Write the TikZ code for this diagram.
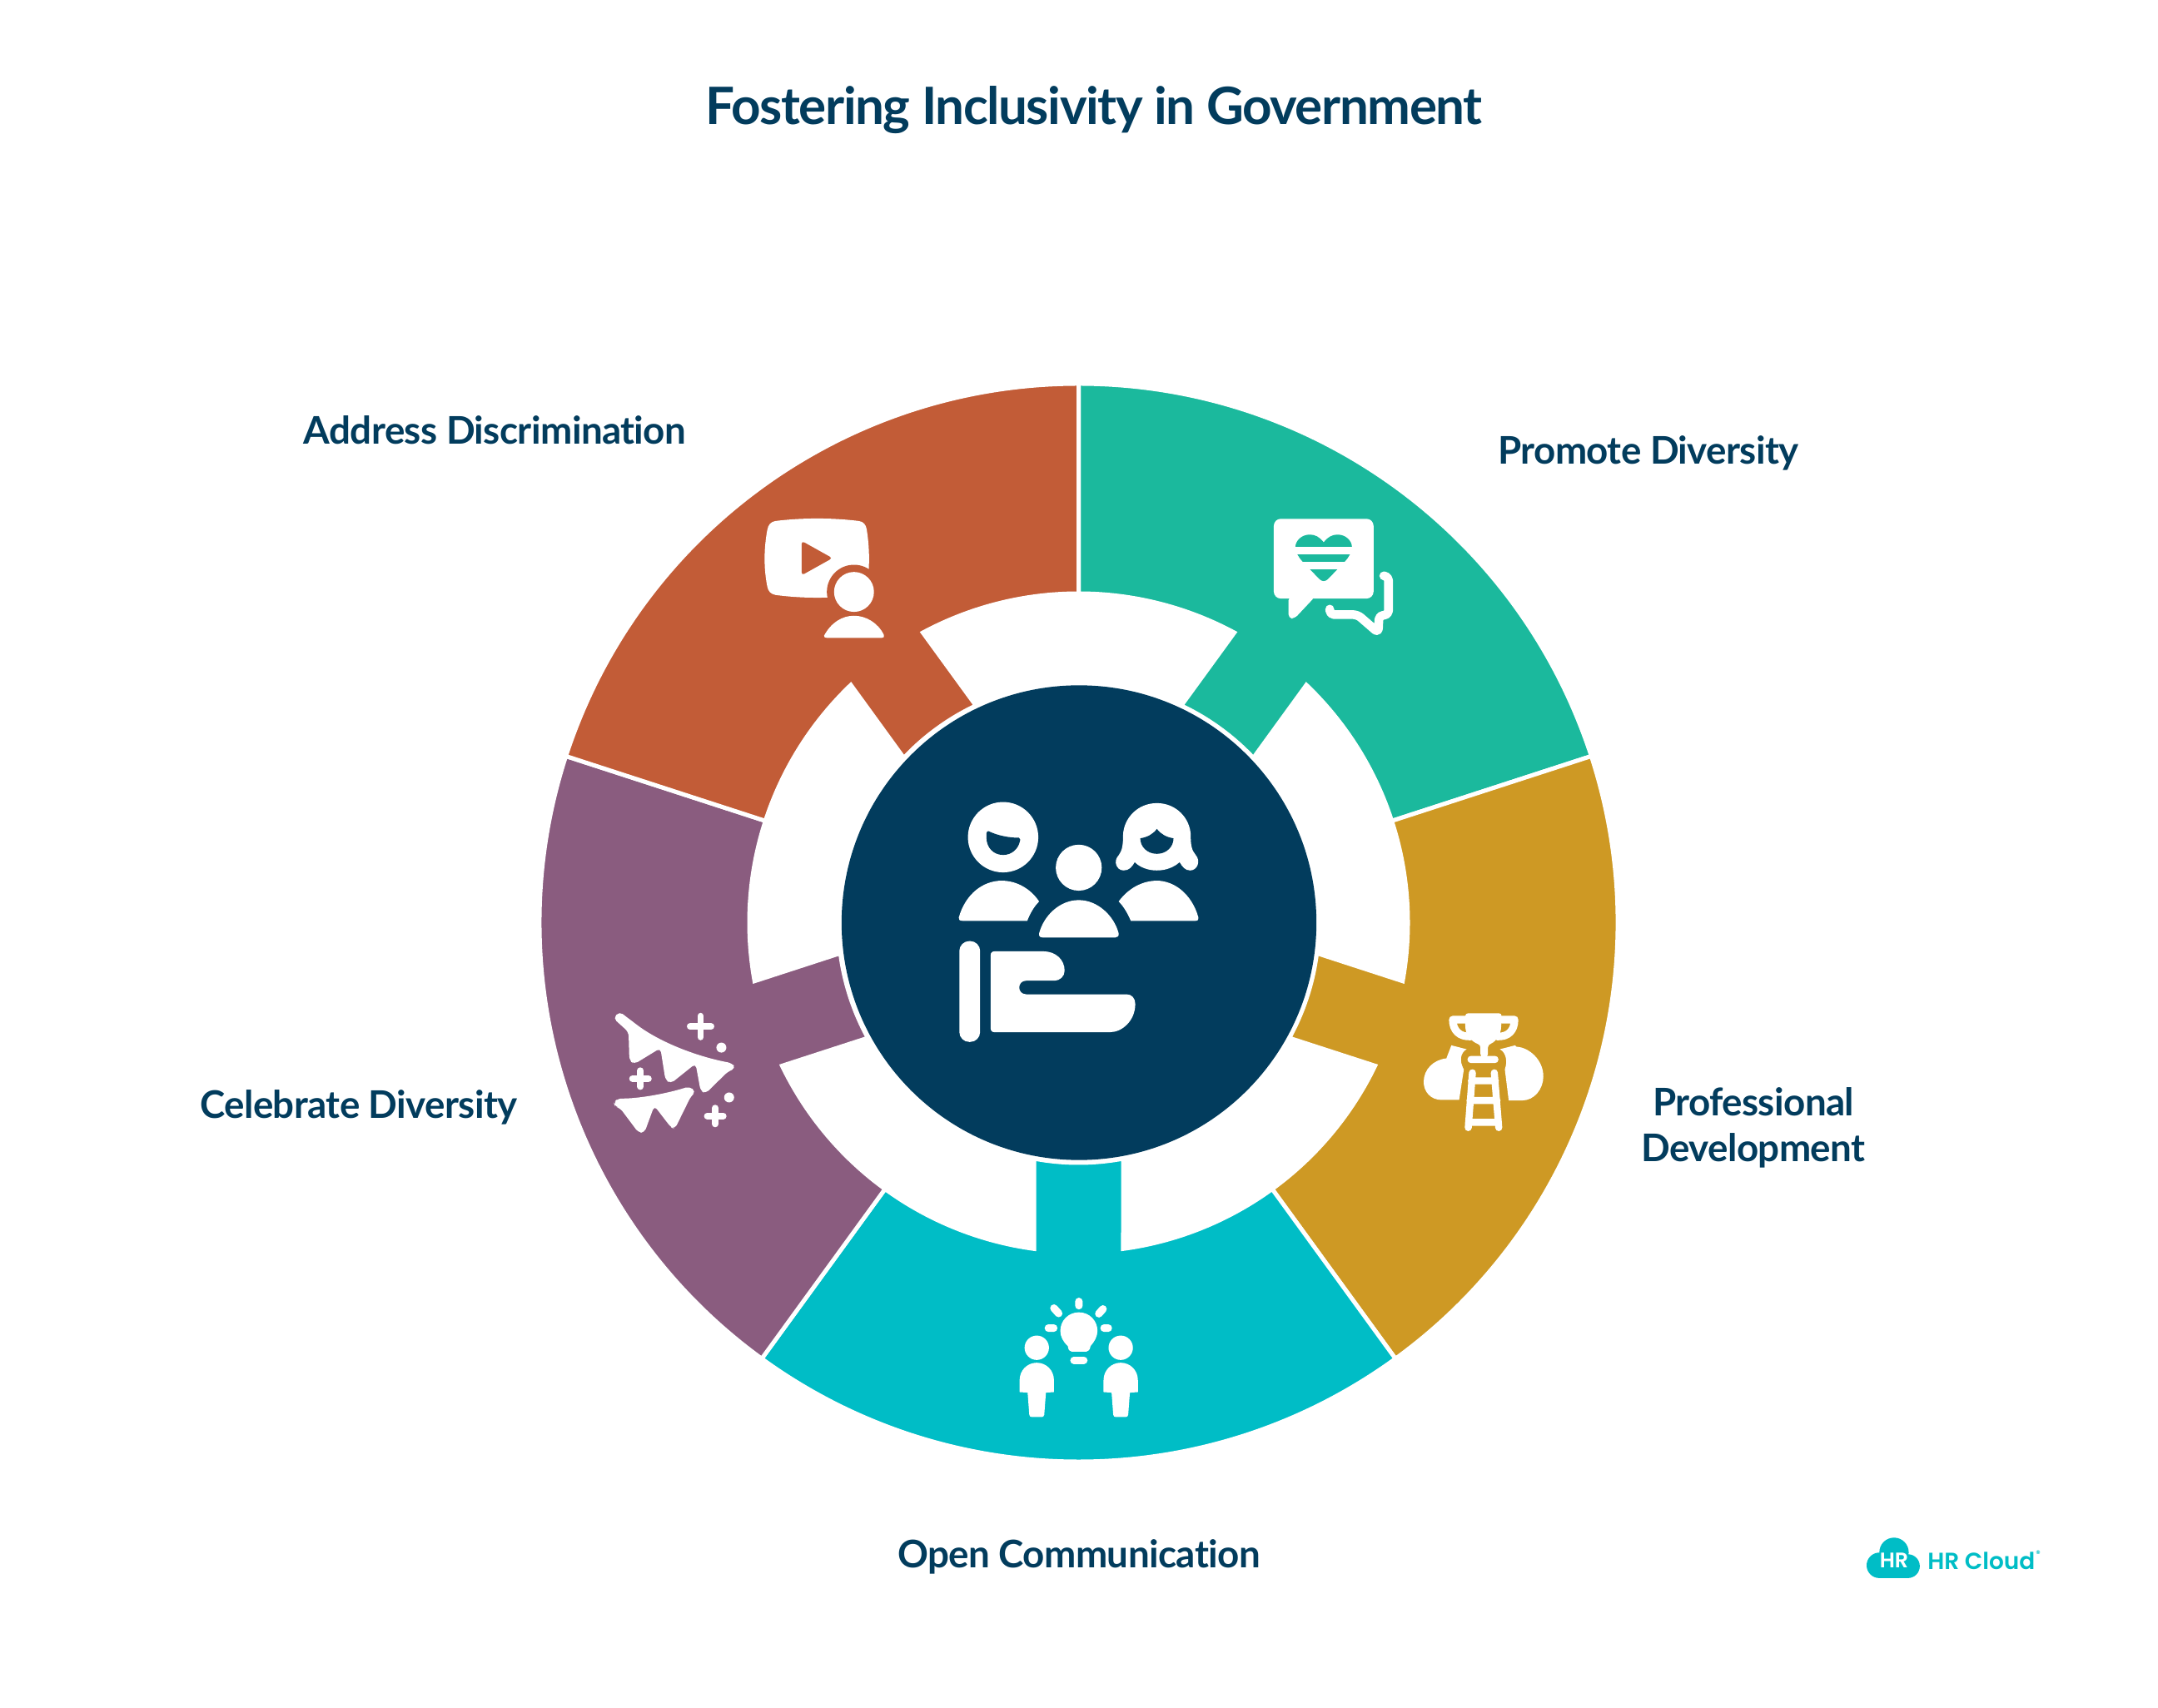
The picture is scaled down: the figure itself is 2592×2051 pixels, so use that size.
\documentclass[tikz,border=0pt]{standalone}
\usepackage{fontspec}
\setmainfont{Lato}[Ligatures=NoCommon]
\newfontfamily\logofont{Poppins SemiBold}
\usetikzlibrary{positioning}
\definecolor{navy}{RGB}{2,60,93}
\definecolor{segteal}{RGB}{27,185,157}
\definecolor{seggold}{RGB}{206,153,36}
\definecolor{segcyan}{RGB}{0,189,198}
\definecolor{segpurple}{RGB}{138,92,127}
\definecolor{segorange}{RGB}{194,92,55}

\begin{document}
\begin{tikzpicture}[x=.01cm, y=.01cm,
	label text/.style={text=navy, font=\fontsize{13}{15.5}\selectfont\bfseries\addfontfeatures{LetterSpace=-1.3}, align=center, inner sep=0pt},
	segment/.style={draw=white, line width=1.42pt},
	icon/.style={fill=white, draw=none},
	iconline/.style={draw=white, fill=none, line cap=round, line join=round},
	zoomed/.style 2 args={shift={(#1,2051-#2)}, x=.0033333cm, y=-.0033333cm}]
\useasboundingbox (0,0) rectangle (2592,2051);

\begin{scope}[shift={(1295.5,942.5)}]
\foreach \a/\c in {90/segteal, 18/seggold, -54/segcyan, -126/segpurple, -198/segorange} {
	\pgfmathsetmacro{\m}{\a-36}
	\pgfmathsetmacro{\e}{\a-72}
	\path[segment, fill=\c] (\a:647.5) arc[start angle=\a, end angle=\e, radius=647.5]
		-- (\e:395.5) arc[start angle=\e, end angle=\m-7.77, radius=395.5]
		-- (\m-10.69:288.5) arc[start angle=\m-10.69, end angle=\m+10.69, radius=288.5] -- (\m+7.77:395.5)
		arc[start angle=\m+7.77, end angle=\a, radius=395.5] -- cycle;
}
\end{scope}
\node[circle, fill=navy, inner sep=0pt, minimum size=5.7cm] (hub) at (1296,942.5) {};

\node[text=navy, font=\fontsize{17.6}{21}\selectfont\bfseries\addfontfeatures{LetterSpace=-2.3}, inner sep=0pt] (title) at (1314,1919) {Fostering Inclusivity in Government};
\node[label text] (address) at (594.5,1534) {Address Discrimination};
\node[label text] (promote) at (1980,1507) {Promote Diversity};
\node[label text] (professional) at (2106,696) {Professional\\Development};
\node[label text] (celebrate) at (431,721) {Celebrate Diversity};
\node[label text] (open) at (1296,181) {Open Communication};

% people and hand
\begin{scope}[zoomed={1100}{900}]
\fill[icon] (315,318) circle[radius=127];
\fill[navy] (262,296) .. controls (295,312) and (335,320) .. (372,320) .. controls (380,322) and (376,330) .. (375,335) .. controls (368,362) and (345,382) .. (315,382) .. controls (280,382) and (255,355) .. (255,320) .. controls (254,305) and (255,296) .. cycle;
\fill[icon] (155,608) .. controls (180,520) and (245,475) .. (310,475) .. controls (365,475) and (415,505) .. (445,550) .. controls (425,570) and (412,595) .. (402,620) -- (170,620) .. controls (158,620) and (153,615) .. cycle;
\fill[icon] (588,428) circle[radius=83];
\fill[icon] (445,665) .. controls (462,600) and (520,545) .. (588,545) .. controls (655,545) and (715,600) .. (732,665) .. controls (733,675) and (728,680) .. (720,680) -- (458,680) .. controls (448,680) and (443,675) .. cycle;
\fill[icon] (1020,608) .. controls (995,520) and (930,475) .. (870,475) .. controls (815,475) and (765,505) .. (732,550) .. controls (752,570) and (765,595) .. (776,620) -- (1008,620) .. controls (1018,620) and (1022,615) .. cycle;
\fill[icon] (870,195) .. controls (940,195) and (990,250) .. (992,310) .. controls (992,345) and (995,365) .. (1010,382) .. controls (1030,405) and (1015,438) .. (990,438) .. controls (972,438) and (962,425) .. (952,408) .. controls (930,428) and (900,438) .. (870,438) .. controls (840,438) and (810,428) .. (790,408) .. controls (780,425) and (770,438) .. (750,438) .. controls (725,438) and (710,405) .. (733,382) .. controls (745,365) and (748,345) .. (748,310) .. controls (750,250) and (800,195) .. cycle;
\fill[navy] (870,288) .. controls (885,308) and (905,318) .. (930,322) .. controls (930,352) and (905,378) .. (870,378) .. controls (835,378) and (810,352) .. (810,322) .. controls (835,318) and (855,308) .. cycle;
\fill[icon, rounded corners=3.4pt] (157,693) rectangle (232,1057);
\fill[icon] (270,745) .. controls (270,735) and (275,730) .. (285,730) -- (460,730) .. controls (505,730) and (537,760) .. (537,800) .. controls (537,820) and (520,836) .. (500,836) -- (398,836) .. controls (365,836) and (365,885) .. (398,885) -- (760,885) .. controls (780,885) and (792,900) .. (792,920) .. controls (792,980) and (745,1022) .. (700,1022) -- (285,1022) .. controls (275,1022) and (270,1017) .. (270,1007) -- cycle;
\end{scope}

% video and presenter
\begin{scope}[zoomed={880}{590}]
\fill[icon] (155,108) .. controls (250,96) and (360,96) .. (455,108) .. controls (472,110) and (482,122) .. (484,140) .. controls (495,210) and (495,280) .. (484,345) .. controls (482,362) and (472,372) .. (455,375) .. controls (360,388) and (250,388) .. (155,375) .. controls (138,372) and (128,362) .. (125,345) .. controls (112,280) and (112,210) .. (125,140) .. controls (128,122) and (138,110) .. cycle;
\fill[segorange, rounded corners=1pt] (249,180) -- (360,242) -- (249,304) -- cycle;
\fill[segorange] (438,364) circle[radius=98];
\fill[icon] (438,364) circle[radius=72];
\fill[icon] (330,522) .. controls (355,475) and (395,450) .. (438,450) .. controls (480,450) and (525,475) .. (546,520) .. controls (548,526) and (545,530) .. (538,530) -- (340,530) .. controls (332,530) and (329,526) .. cycle;
\end{scope}

% chat bubbles with heart
\begin{scope}[zoomed={1500}{600}]
\fill[icon, rounded corners=2.4pt] (90,70) rectangle (450,358);
\fill[icon, rounded corners=1.4pt] (143,350) -- (143,430) -- (165,430) -- (240,350) -- cycle;
\fill[segteal] (270,155) .. controls (255,135) and (238,127) .. (220,127) .. controls (190,127) and (168,150) .. (168,172) .. controls (168,190) and (180,210) .. (195,226) -- (255,288) .. controls (265,297) and (275,297) .. (285,288) -- (345,226) .. controls (360,210) and (372,190) .. (372,172) .. controls (372,150) and (350,127) .. (320,127) .. controls (302,127) and (285,135) .. cycle;
\fill[icon] (160,172) rectangle (380,198);
\fill[icon] (160,226) rectangle (380,252);
\draw[iconline, line width=3pt, rounded corners=1.5pt] (487,276) -- (504,276) -- (504,418) -- (470,418) -- (467,481) -- (392,416) -- (292,416) -- (292,396);
\end{scope}

% trophy on ladder
\begin{scope}[zoomed={1680}{1190}]
\fill[icon] (190,198) -- (245,212) .. controls (222,225) and (218,255) .. (235,285) -- (218,395) -- (155,395) .. controls (115,395) and (90,365) .. (90,330) .. controls (90,285) and (125,250) .. (172,245) -- cycle;
\fill[icon] (365,212) .. controls (390,225) and (392,260) .. (383,285) -- (397,397) -- (445,397) .. controls (490,397) and (522,355) .. (522,310) .. controls (522,250) and (470,205) .. (425,203) -- (420,198) -- cycle;
\fill[icon, rounded corners=1pt] (240,82) -- (372,82) -- (370,130) .. controls (365,170) and (340,190) .. (322,195) -- (322,240) -- (295,240) -- (295,195) .. controls (275,190) and (245,170) .. (240,130) -- cycle;
\fill[icon, rounded corners=1.2pt] (248,236) rectangle (360,262);
\draw[iconline, line width=2.6pt] (240,105) -- (195,105) .. controls (195,145) and (220,168) .. (260,166);
\draw[iconline, line width=2.6pt] (372,105) -- (418,105) .. controls (418,145) and (395,168) .. (355,166);
\draw[iconline, line width=2.4pt] (266,297) -- (251,495) (345,297) -- (361,495) (262,326) -- (349,326) (257,397) -- (355,397) (252,476) -- (360,476);
\end{scope}

% idea between two people
\begin{scope}[zoomed={1200}{1540}]
\fill[icon] (248,232) .. controls (230,215) and (221,197) .. (221,177) .. controls (221,140) and (250,110) .. (288,110) .. controls (326,110) and (355,140) .. (355,177) .. controls (355,197) and (345,215) .. (330,232) .. controls (328,245) and (322,252) .. (315,252) -- (262,252) .. controls (254,252) and (250,245) .. cycle;
\draw[iconline, line width=2.5pt] (270,283) -- (306,283);
\draw[iconline, line width=2.6pt] (288,71) -- (288,86) (198,95) -- (215,114) (375,98) -- (360,115) (178,167) -- (197,167) (379,167) -- (394,167);
\foreach \p in {136,439} {
	\fill[icon] (\p,238) circle[radius=44];
	\fill[icon] (\p-62,398) -- (\p-62,355) .. controls (\p-62,320) and (\p-35,292) .. (\p,292) .. controls (\p+35,292) and (\p+62,320) .. (\p+62,355) -- (\p+62,398) -- (\p+33,400) -- (\p+27,480) .. controls (\p+26,486) and (\p+22,488) .. (\p+18,488) -- (\p-18,488) .. controls (\p-22,488) and (\p-26,486) .. (\p-27,480) -- (\p-33,400) -- cycle;
}
\end{scope}

% bunting and sparkles
\begin{scope}[zoomed={720}{1200}]
\fill[icon, rounded corners=1.4pt] (50,70) -- (72,46) -- (150,105) .. controls (250,170) and (370,212) .. (478,232) -- (492,250) -- (462,264) -- (383,342) -- (365,332) -- (347,234) -- (257,306) -- (238,292) -- (220,178) -- (125,236) -- (108,222) -- (105,120) -- cycle;
\fill[icon, rounded corners=1.4pt] (52,375) -- (65,360) .. controls (150,360) and (250,340) .. (325,316) -- (348,335) -- (330,352) -- (272,470) -- (258,464) -- (198,386) -- (162,484) -- (140,482) -- (75,395) -- (55,388) -- cycle;
\draw[iconline, line width=2.2pt] (327,100) -- (403,100) (365,62) -- (365,138) (119,288) -- (177,288) (148,259) -- (148,317) (389,423) -- (447,423) (418,394) -- (418,452);
\fill[icon] (440,176) circle[radius=18];
\fill[icon] (468,356) circle[radius=18];
\end{scope}

% logo
\begin{scope}[zoomed={2220}{1830}]
\fill[segcyan] (112,152) circle[radius=46];
\fill[segcyan] (215,155) circle[radius=43];
\fill[segcyan] (165,105) circle[radius=53];
\fill[segcyan] (112,130) rectangle (215,198);
\node[text=white, font=\logofont\fontsize{7.2}{9}\selectfont, inner sep=0pt] (logomark) at (165,135) {HR};
\node[text=segcyan, font=\logofont\fontsize{7.95}{10}\selectfont, inner sep=0pt, anchor=west] (logotext) at (284,135) {HR Cloud};
\node[text=segcyan, font=\logofont\fontsize{3}{3}\selectfont, inner sep=0pt] (logomarkr) at (685,110) {®};
\end{scope}
\end{tikzpicture}
\end{document}
